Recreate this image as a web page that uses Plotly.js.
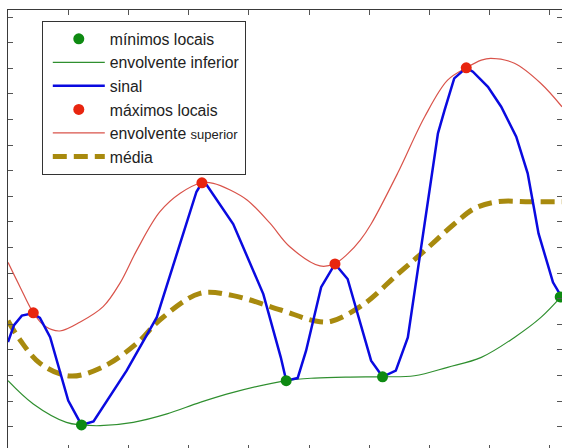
<!DOCTYPE html>
<html>
<head>
<meta charset="utf-8">
<script src="https://cdn.plot.ly/plotly-3.0.1.min.js"></script>
<style>
html, body { margin: 0; padding: 0; overflow: hidden; background: #fff; }
#chart { width: 562px; height: 452px; }
</style>
</head>
<body>
<div id="chart"></div>
<script>
// Signal (sinal)
const signalX = [0, 0.10, 0.23, 0.41, 0.53, 0.70, 1.00, 1.20, 1.22, 1.42, 1.97, 2.47, 2.97, 3.13, 3.22, 3.30, 3.74, 4.24, 4.53, 4.62, 4.81, 4.95, 5.20, 5.43, 5.64, 5.81, 6.03, 6.22, 6.44, 6.64, 6.92, 7.14, 7.25, 7.41, 7.61, 7.72, 7.97, 8.19, 8.44, 8.63, 8.75, 8.81, 8.96, 9.05, 9.19];
const signalY = [3.31, 3.97, 4.34, 4.43, 4.25, 3.50, 1.02, 0.18, 0.07, 0.21, 2.19, 4.27, 7.92, 9.18, 9.53, 9.44, 7.92, 5.18, 2.71, 1.80, 1.90, 2.97, 5.45, 6.36, 5.77, 4.40, 2.58, 1.95, 2.19, 3.49, 7.92, 11.46, 12.37, 13.61, 14.02, 13.87, 13.28, 12.50, 11.33, 9.90, 8.34, 7.55, 6.36, 5.64, 5.08];

// Local minima / maxima
const minX = [1.22, 4.62, 6.22, 9.17];
const minY = [0.07, 1.80, 1.95, 5.07];
const maxX = [0.42, 3.22, 5.43, 7.61];
const maxY = [4.45, 9.53, 6.36, 14.02];

// Upper envelope (envolvente superior)
const upperX = [0, 0.20, 0.42, 0.61, 0.86, 1.20, 1.58, 1.86, 2.14, 2.52, 2.86, 3.22, 3.41, 3.69, 3.97, 4.35, 4.68, 5.18, 5.42, 5.64, 5.85, 6.03, 6.47, 6.92, 7.30, 7.61, 7.86, 8.02, 8.41, 8.85, 9.20];
const upperY = [6.42, 5.46, 4.45, 3.93, 3.74, 4.09, 4.69, 5.61, 6.90, 8.39, 9.12, 9.53, 9.51, 9.25, 8.86, 7.95, 7.03, 6.28, 6.36, 6.75, 7.29, 7.92, 9.90, 12.11, 13.54, 14.02, 14.32, 14.39, 14.20, 13.41, 12.50];

// Lower envelope (envolvente inferior)
const lowerX = [0, 0.42, 0.97, 1.22, 1.53, 2.08, 2.64, 3.19, 3.74, 4.62, 5.09, 5.68, 6.22, 6.75, 7.30, 7.86, 8.41, 8.85, 9.20];
const lowerY = [1.80, 0.89, 0.17, 0.07, 0.04, 0.17, 0.50, 0.95, 1.34, 1.80, 1.90, 1.94, 1.95, 1.99, 2.32, 2.71, 3.49, 4.27, 5.12];

// Mean (média)
const meanX = [0, 0.20, 0.53, 1.03, 1.58, 2.14, 2.52, 3.19, 3.74, 4.53, 5.09, 5.37, 5.91, 6.47, 6.92, 7.41, 7.75, 8.13, 8.67, 9.20];
const meanY = [4.14, 3.39, 2.48, 1.98, 2.34, 3.26, 4.17, 5.21, 5.12, 4.56, 4.14, 4.12, 4.79, 5.96, 6.88, 7.92, 8.53, 8.79, 8.79, 8.79];

const names = ['mínimos locais', 'envolvente inferior', 'sinal', 'máximos locais',
  'envolvente <span style="font-size:13px">superior</span>', 'média'];

const traces = [
  { x: lowerX, y: lowerY, mode: 'lines', name: names[1], legendrank: 2, legendgroup: 'g2',
    line: { color: '#2f8f2f', width: 1.2, shape: 'spline', smoothing: 1 } },
  { x: upperX, y: upperY, mode: 'lines', name: names[4], legendrank: 5, legendgroup: 'g5',
    line: { color: '#d9534a', width: 1.2, shape: 'spline', smoothing: 1 } },
  { x: meanX, y: meanY, mode: 'lines', name: names[5], legendrank: 6, legendgroup: 'g6',
    line: { color: '#a88a0e', width: 5, dash: '14px,7px', shape: 'spline', smoothing: 1 } },
  { x: signalX, y: signalY, mode: 'lines', name: names[2], legendrank: 3, legendgroup: 'g3',
    line: { color: '#0a0ae0', width: 2.5 } },
  { x: minX, y: minY, mode: 'markers', name: names[0], legendrank: 1, legendgroup: 'g1',
    marker: { color: '#0e8a12', size: 11 } },
  { x: maxX, y: maxY, mode: 'markers', name: names[3], legendrank: 4, legendgroup: 'g4',
    marker: { color: '#e8250f', size: 11 } }
];

const axisCommon = {
  showgrid: false, zeroline: false, showline: true, mirror: 'ticks',
  linecolor: '#3a3a3a', linewidth: 1, ticks: 'inside', ticklen: 5, tickcolor: '#555',
  tickwidth: 1, showticklabels: false, dtick: 1, tick0: 0, fixedrange: true
};

const layout = {
  width: 562, height: 452,
  margin: { l: 8, r: 0, t: 10, b: 2, pad: 0 },
  paper_bgcolor: '#fff', plot_bgcolor: '#fff',
  xaxis: Object.assign({}, axisCommon, { range: [0, 9.2] }),
  yaxis: Object.assign({}, axisCommon, { range: [-0.91, 16.28] }),
  showlegend: true,
  legend: {
    x: 0.061, y: 0.975, xanchor: 'left', yanchor: 'top',
    bgcolor: '#fff', bordercolor: '#333', borderwidth: 1,
    font: { family: 'Liberation Sans, Arial, sans-serif', size: 15.8, color: '#222' },
    itemwidth: 52, indentation: 5, tracegroupgap: 3, traceorder: 'normal'
  },
  font: { family: 'Liberation Sans, Arial, sans-serif' }
};

Plotly.newPlot('chart', traces, layout, { staticPlot: true, displayModeBar: false });
</script>
</body>
</html>
